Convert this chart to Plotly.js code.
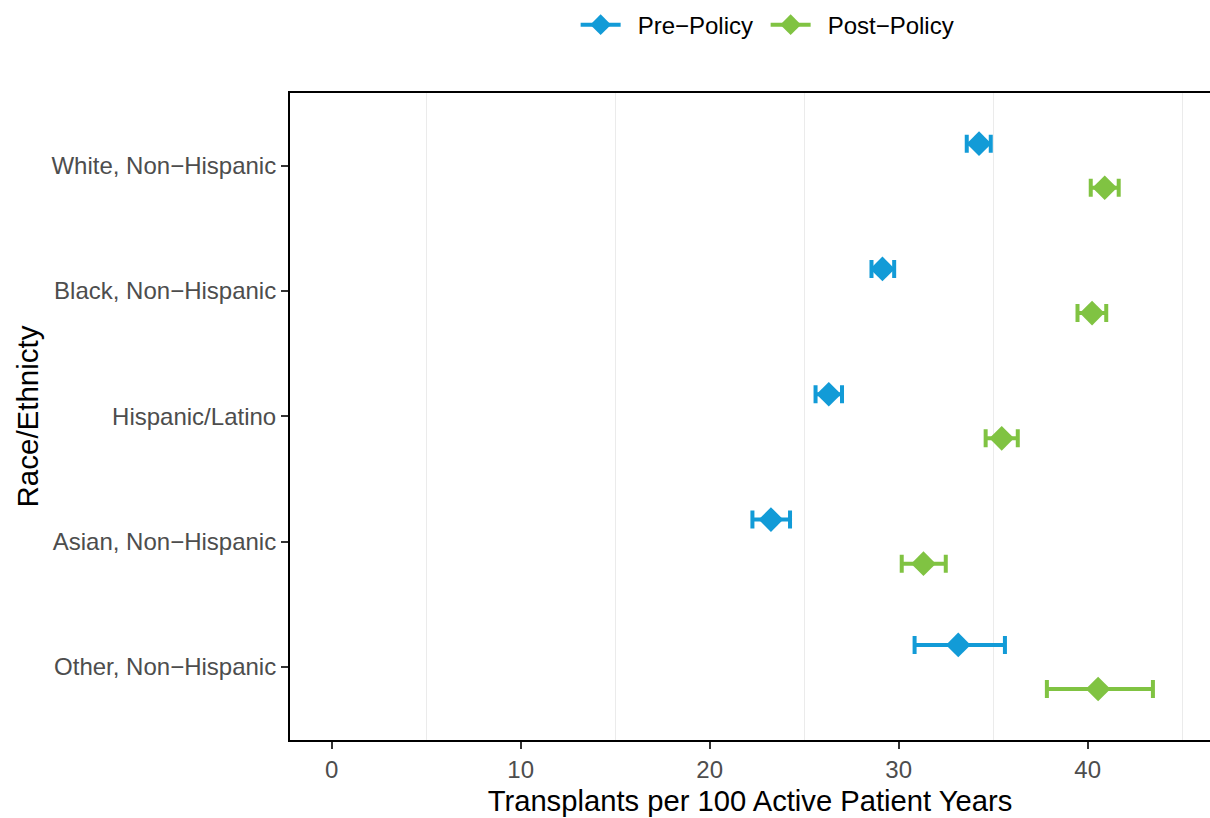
<!DOCTYPE html>
<html>
<head>
<meta charset="utf-8">
<script src="https://cdn.plot.ly/plotly-3.0.1.min.js"></script>
<style>html,body{margin:0;padding:0;background:#fff;}#chart{width:1210px;height:818px;}</style>
</head>
<body>
<div id="chart"></div>
<script>
// Categories (top to bottom)
const categories = ["White, Non\u2212Hispanic", "Black, Non\u2212Hispanic", "Hispanic/Latino", "Asian, Non\u2212Hispanic", "Other, Non\u2212Hispanic"];
const seriesNames = ["Pre\u2212Policy", "Post\u2212Policy"];

// Transplants per 100 active patient years
const preEst  = [34.25, 29.14, 26.30, 23.24, 33.15];
const preLow  = [33.60, 28.56, 25.60, 22.26, 30.84];
const preHigh = [34.87, 29.76, 27.00, 24.25, 35.62];

const postEst  = [40.90, 40.23, 35.45, 31.31, 40.55];
const postLow  = [40.16, 39.46, 34.60, 30.16, 37.84];
const postHigh = [41.64, 40.98, 36.30, 32.49, 43.45];

const xTicks = [0, 10, 20, 30, 40];

const colors = ["#129BD7", "#80C342"];
const dodge = 0.176;
const n = categories.length;
const basePos = categories.map((c, i) => n - 1 - i);

function makeTrace(est, lo, hi, name, color, off) {
  return {
    type: "scatter",
    mode: "markers",
    name: name,
    showlegend: false,
    x: est,
    y: basePos.map(p => p + off),
    marker: {symbol: "diamond", size: 19, color: color},
    error_x: {
      type: "data", symmetric: false,
      array: hi.map((h, i) => h - est[i]),
      arrayminus: lo.map((l, i) => est[i] - l),
      color: color, thickness: 4, width: 9
    },
    hoverinfo: "x+y"
  };
}
function legendTrace(name, color) {
  return {
    type: "scatter", mode: "lines+markers", name: "\u2002" + name,
    x: [null], y: [null],
    line: {color: color, width: 4},
    marker: {symbol: "diamond", size: 20, color: color},
    showlegend: true
  };
}

const data = [
  makeTrace(preEst, preLow, preHigh, seriesNames[0], colors[0], dodge),
  makeTrace(postEst, postLow, postHigh, seriesNames[1], colors[1], -dodge),
  legendTrace(seriesNames[0], colors[0]),
  legendTrace(seriesNames[1], colors[1])
];

const layout = {
  width: 1210, height: 818,
  margin: {l: 290, r: 0, t: 93, b: 78},
  paper_bgcolor: "#ffffff", plot_bgcolor: "#ffffff",
  font: {family: "Liberation Sans, Arial, sans-serif", size: 24, color: "#4D4D4D"},
  showlegend: true,
  legend: {
    orientation: "h", x: 0.517, xanchor: "center", y: 1.105, yanchor: "middle",
    font: {size: 24, color: "#000000"}, itemwidth: 40, traceorder: "normal",
    entrywidth: 135, entrywidthmode: "pixels",
    bgcolor: "rgba(0,0,0,0)"
  },
  xaxis: {
    range: [-2.206, 46.47],
    tickvals: xTicks, ticktext: xTicks.map(String),
    showgrid: false, zeroline: false,
    showline: true, mirror: true, linecolor: "#000000", linewidth: 2,
    ticks: "outside", ticklen: 7, tickwidth: 2, tickcolor: "#333333",
    tickfont: {size: 24, color: "#4D4D4D"},
    minor: {showgrid: true, tick0: 5, dtick: 10, gridcolor: "#EBEBEB", gridwidth: 1.2, ticks: ""},
    title: {text: "Transplants per 100 Active Patient Years", font: {size: 29.2, color: "#000000"}, standoff: 9},
    automargin: false
  },
  yaxis: {
    range: [-0.583, 4.58],
    tickvals: basePos, ticktext: categories,
    showgrid: false, zeroline: false,
    showline: true, mirror: false, linecolor: "#000000", linewidth: 2,
    ticks: "outside", ticklen: 7, tickwidth: 2, tickcolor: "#333333",
    tickfont: {size: 24, color: "#4D4D4D"},
    title: {text: "Race/Ethnicty", font: {size: 29.5, color: "#000000"}, standoff: 4},
    automargin: false
  }
};

Plotly.newPlot("chart", data, layout, {displayModeBar: false, staticPlot: true});
</script>
</body>
</html>
